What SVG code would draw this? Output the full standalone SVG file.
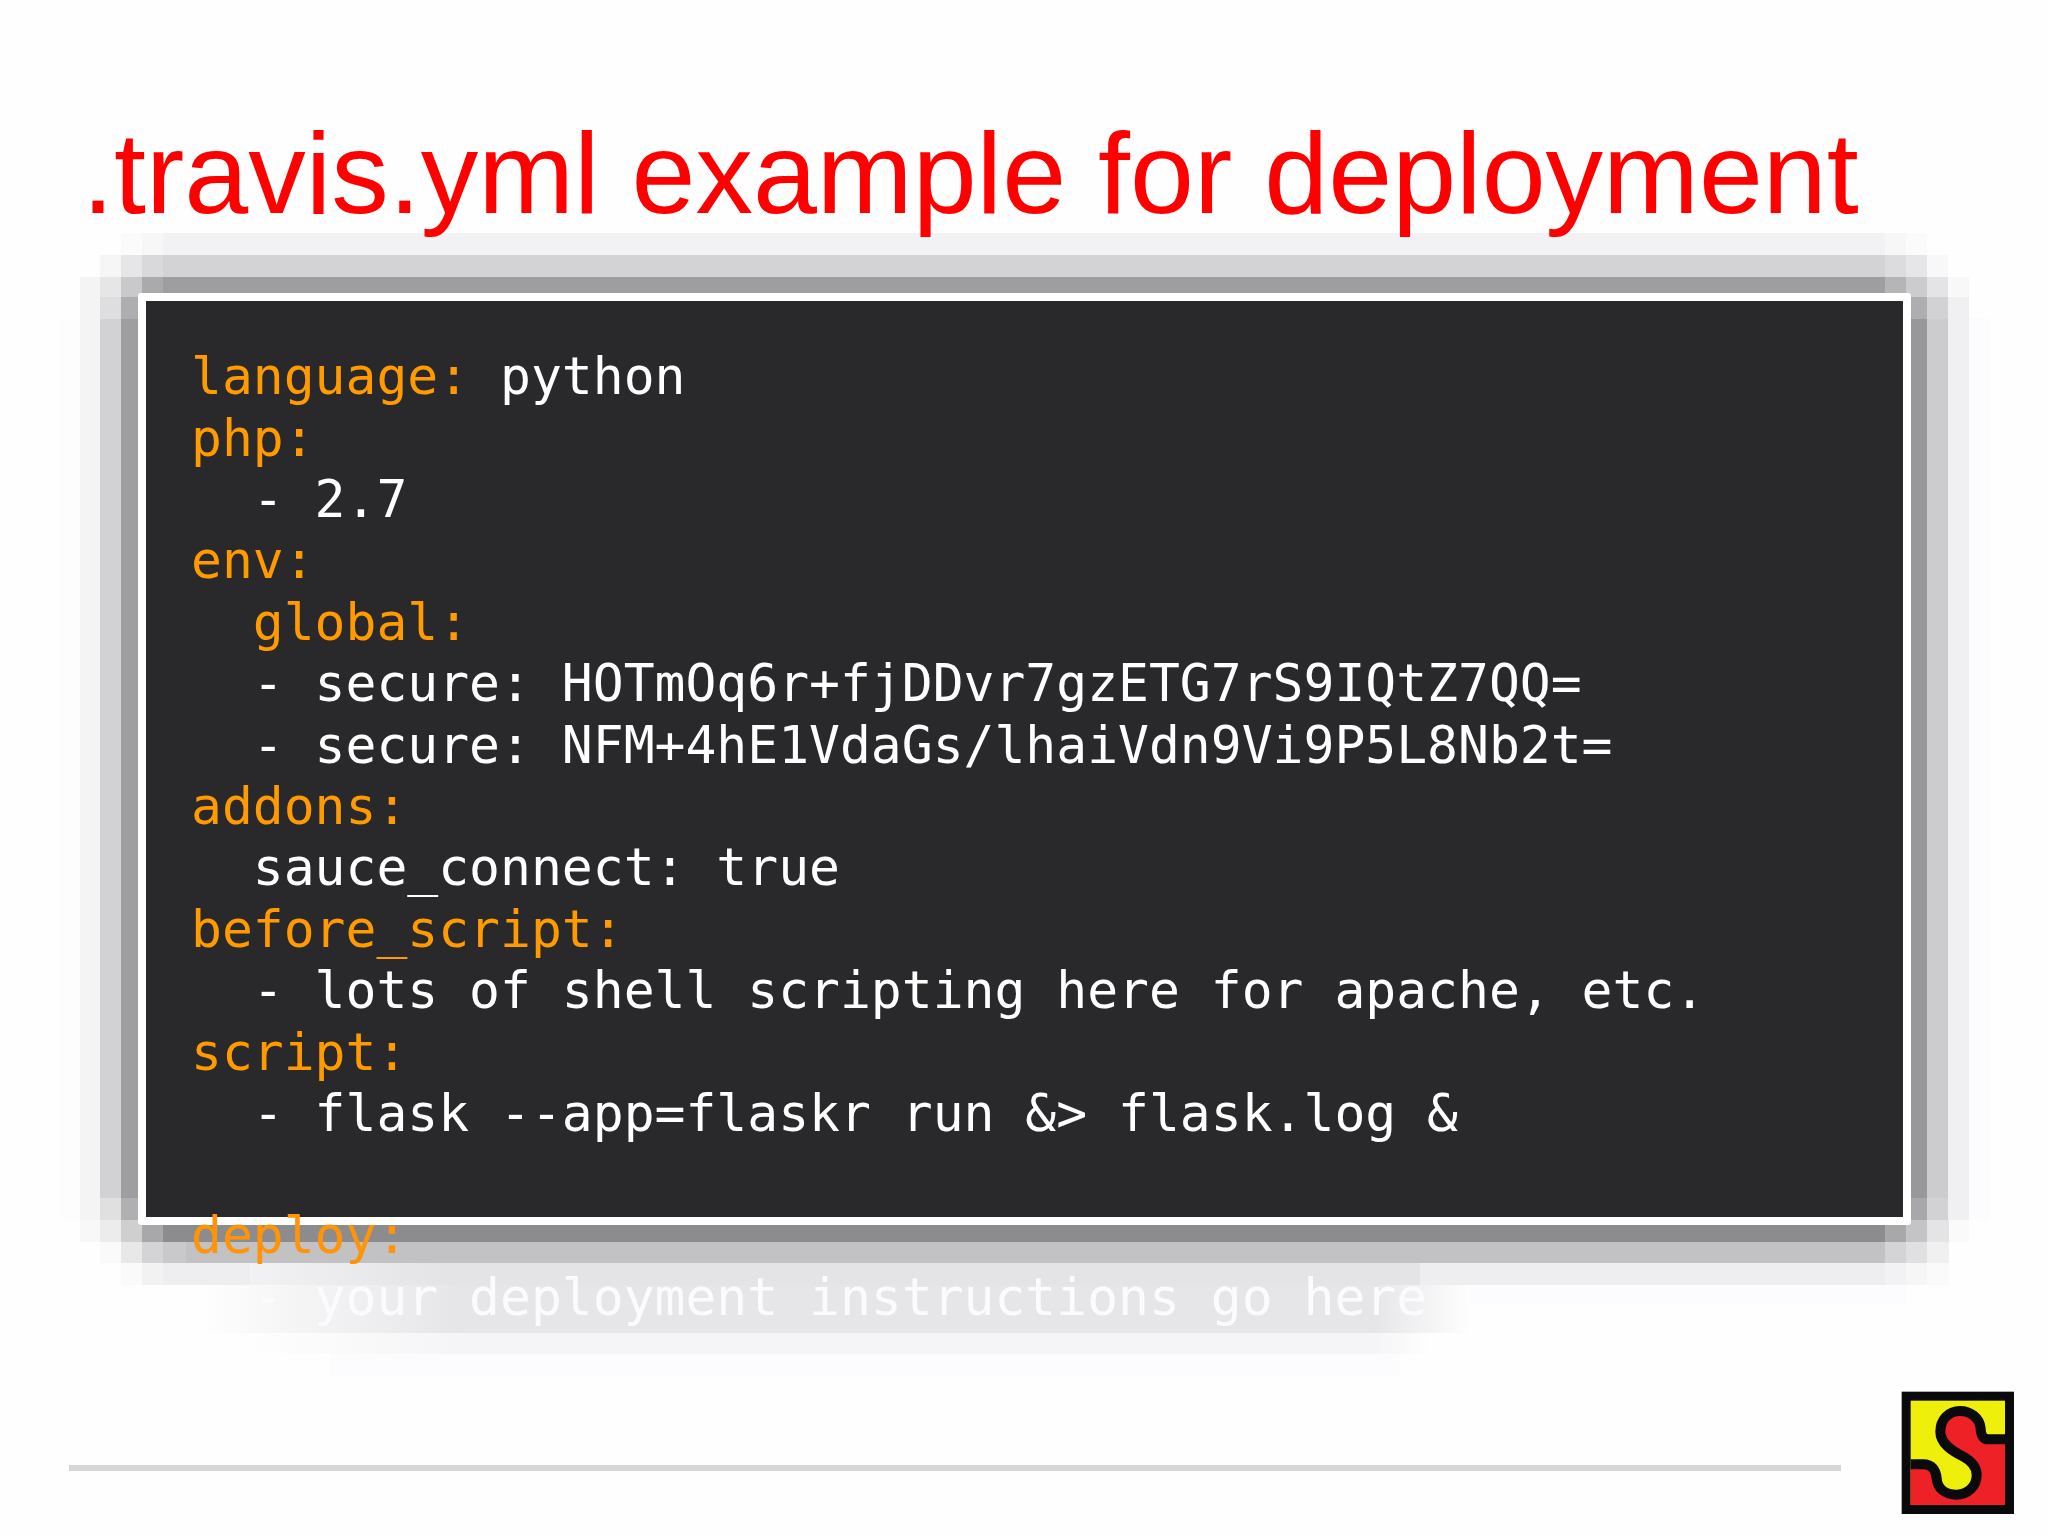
<svg xmlns="http://www.w3.org/2000/svg" width="2048" height="1536" viewBox="0 0 2048 1536">
<style>
.code{font-family:"DejaVu Sans Mono","Liberation Mono",monospace;font-size:51.33px;white-space:pre}
.k{fill:#ff9a00}
.v{fill:#ffffff}
.title{font-family:"Liberation Sans",Arial,sans-serif;font-size:115px;fill:#fe0000}
</style>
<defs>
<linearGradient id="fadeL" x1="0" x2="1" y1="0" y2="0"><stop offset="0" stop-color="#fefefe"/><stop offset="1" stop-color="#e6e5e8"/></linearGradient>
<linearGradient id="fadeR" x1="0" x2="1" y1="0" y2="0"><stop offset="0" stop-color="#e8e7ea"/><stop offset="1" stop-color="#fefefe"/></linearGradient>
<linearGradient id="fadeL2" x1="0" x2="1" y1="0" y2="0"><stop offset="0" stop-color="#fefefe"/><stop offset="1" stop-color="#f5f4f6"/></linearGradient>
<linearGradient id="fadeR2" x1="0" x2="1" y1="0" y2="0"><stop offset="0" stop-color="#f5f4f6"/><stop offset="1" stop-color="#fefefe"/></linearGradient>
<linearGradient id="fadeT" x1="0" x2="1" y1="0" y2="0"><stop offset="0" stop-color="#f2f1f3"/><stop offset="1" stop-color="#e4e3e6"/></linearGradient>
</defs>
<rect width="2048" height="1536" fill="#fefefe"/>
<g id="shadow" shape-rendering="crispEdges">
<!-- outermost faint -->
<rect x="60" y="318" width="20" height="902" fill="#fdfdfd"/>
<rect x="1969" y="318" width="21" height="902" fill="#fcfcfe"/>
<rect x="250" y="1284" width="1656" height="21" fill="#fcfbfd"/>
<!-- top bands -->
<rect x="163" y="233" width="1722" height="22" fill="#f2f2f4"/>
<rect x="121" y="233" width="21" height="22" fill="#fbfbfc"/>
<rect x="142" y="233" width="21" height="22" fill="#f7f7f8"/>
<rect x="1885" y="233" width="21" height="22" fill="#f7f7f8"/>
<rect x="1906" y="233" width="21" height="22" fill="#fbfbfc"/>
<rect x="163" y="255" width="1722" height="22" fill="#d3d2d5"/>
<rect x="100" y="255" width="21" height="22" fill="#f6f6f7"/>
<rect x="121" y="255" width="21" height="22" fill="#e6e6e8"/>
<rect x="142" y="255" width="21" height="22" fill="#d9d8db"/>
<rect x="1885" y="255" width="21" height="22" fill="#dcdcdf"/>
<rect x="1906" y="255" width="21" height="22" fill="#e6e6e9"/>
<rect x="1927" y="255" width="21" height="22" fill="#f8f8f9"/>
<rect x="163" y="277" width="1722" height="20" fill="#9e9da0"/>
<rect x="100" y="277" width="21" height="20" fill="#e6e6e7"/>
<rect x="121" y="277" width="21" height="20" fill="#c9c8cb"/>
<rect x="142" y="277" width="21" height="20" fill="#aaa9ac"/>
<rect x="1885" y="277" width="21" height="20" fill="#b5b4b7"/>
<rect x="1906" y="277" width="21" height="20" fill="#cccbce"/>
<rect x="1927" y="277" width="21" height="20" fill="#e4e4e6"/>
<rect x="1948" y="277" width="21" height="20" fill="#f8f8f9"/>
<!-- left bands -->
<rect x="80" y="277" width="20" height="943" fill="#f4f4f5"/>
<rect x="100" y="297" width="21" height="22" fill="#dedde0"/>
<rect x="100" y="319" width="21" height="879" fill="#d2d1d4"/>
<rect x="100" y="1198" width="21" height="22" fill="#e0e0e1"/>
<rect x="121" y="297" width="17" height="22" fill="#aeadb0"/>
<rect x="121" y="319" width="17" height="879" fill="#9e9da0"/>
<rect x="121" y="1198" width="17" height="22" fill="#b0afb2"/>
<!-- right bands -->
<rect x="1911" y="297" width="16" height="22" fill="#aeadb0"/>
<rect x="1911" y="319" width="16" height="879" fill="#98979a"/>
<rect x="1911" y="1198" width="16" height="22" fill="#a8a7aa"/>
<rect x="1927" y="297" width="21" height="22" fill="#d2d2d4"/>
<rect x="1927" y="319" width="21" height="879" fill="#cccbce"/>
<rect x="1927" y="1198" width="21" height="22" fill="#d2d1d4"/>
<rect x="1948" y="297" width="21" height="923" fill="#f0f0f2"/>
<!-- bottom bands -->
<rect x="163" y="1220" width="1722" height="22" fill="#8c8b8e"/>
<rect x="80" y="1220" width="20" height="22" fill="#f8f8f9"/>
<rect x="100" y="1220" width="21" height="22" fill="#ececed"/>
<rect x="121" y="1220" width="21" height="22" fill="#cfcfd0"/>
<rect x="142" y="1220" width="21" height="22" fill="#a8a7aa"/>
<rect x="1885" y="1220" width="21" height="22" fill="#a8a7aa"/>
<rect x="1906" y="1220" width="21" height="22" fill="#c4c3c6"/>
<rect x="1927" y="1220" width="22" height="22" fill="#e4e4e6"/>
<rect x="1949" y="1220" width="20" height="22" fill="#fafafb"/>
<rect x="186" y="1242" width="1699" height="21" fill="#c2c1c4"/>
<rect x="100" y="1242" width="21" height="21" fill="#fafafa"/>
<rect x="121" y="1242" width="21" height="21" fill="#e8e8e9"/>
<rect x="142" y="1242" width="21" height="21" fill="#d4d3d6"/>
<rect x="163" y="1242" width="23" height="21" fill="#c9c8cb"/>
<rect x="1885" y="1242" width="21" height="21" fill="#d4d3d6"/>
<rect x="1906" y="1242" width="21" height="21" fill="#e0e0e2"/>
<rect x="1927" y="1242" width="22" height="21" fill="#f0f0f1"/>
<rect x="163" y="1263" width="1722" height="22" fill="#eeedef"/>
<rect x="121" y="1263" width="21" height="22" fill="#fafafa"/>
<rect x="142" y="1263" width="21" height="22" fill="#f2f2f3"/>
<rect x="1885" y="1263" width="21" height="22" fill="#f2f2f4"/>
<rect x="1906" y="1263" width="21" height="22" fill="#f6f6f7"/>
<rect x="1927" y="1263" width="22" height="22" fill="#fafafb"/>
<rect x="250" y="1263" width="190" height="22" fill="url(#fadeT)"/>
<rect x="440" y="1263" width="980" height="22" fill="#e4e3e6"/>
<!-- text line shadow -->
<rect x="200" y="1285" width="260" height="48" fill="url(#fadeL)"/>
<rect x="460" y="1285" width="920" height="48" fill="#e6e5e8"/>
<rect x="1380" y="1285" width="90" height="48" fill="url(#fadeR)"/>
<rect x="250" y="1333" width="220" height="21" fill="url(#fadeL2)"/>
<rect x="470" y="1333" width="900" height="21" fill="#f5f4f6"/>
<rect x="1370" y="1333" width="60" height="21" fill="url(#fadeR2)"/>
<rect x="330" y="1354" width="1070" height="21" fill="#fcfbfd"/>
</g>
<g id="panel">
<rect x="138" y="293" width="1773" height="932" rx="3" fill="#ffffff"/>
<rect x="146" y="301" width="1757" height="916" fill="#29282b"/>
</g>
<text id="title" class="title" x="82" y="213">.travis.yml example for deployment</text>
<g id="code" class="code">
<text x="191" y="394"><tspan class="k">language:</tspan><tspan class="v"> python</tspan></text>
<text class="k" x="191" y="455.5">php:</text>
<text class="v" x="191" y="517" xml:space="preserve">  - 2.7</text>
<text class="k" x="191" y="578.3">env:</text>
<text class="k" x="191" y="639.8" xml:space="preserve">  global:</text>
<text class="v" x="191" y="701.2" xml:space="preserve">  - secure: HOTmOq6r+fjDDvr7gzETG7rS9IQtZ7QQ=</text>
<text class="v" x="191" y="762.6" xml:space="preserve">  - secure: NFM+4hE1VdaGs/lhaiVdn9Vi9P5L8Nb2t=</text>
<text class="k" x="191" y="824">addons:</text>
<text class="v" x="191" y="885.4" xml:space="preserve">  sauce_connect: true</text>
<text class="k" x="191" y="946.8">before_script:</text>
<text class="v" x="191" y="1008.2" xml:space="preserve">  - lots of shell scripting here for apache, etc.</text>
<text class="k" x="191" y="1069.6">script:</text>
<text class="v" x="191" y="1131" xml:space="preserve">  - flask --app=flaskr run &amp;&gt; flask.log &amp;</text>
<text x="191" y="1253" fill="#ff9408">deploy:</text>
<text x="191" y="1314.5" fill="#fbfafc" xml:space="preserve">  - your deployment instructions go here</text>
</g>
<rect id="rule" x="69" y="1465" width="1772" height="6" fill="#d6d5d7"/>
<g id="logo" transform="translate(1880 1380) scale(0.33333)">
<rect x="65" y="35" width="337" height="367" fill="#0a0a0c"/>
<rect x="92" y="62" width="283" height="313" fill="#eef00c"/>
<path d="M375 178H325C310 178 302 165 302 145C298 112 270 93 240 93C205 93 181 120 181 155C181 190 215 212 250 230C278 245 290 262 290 285C290 320 262 344 230 344C195 344 172 325 170 295C168 270 155 253 130 253H92V375H375Z" fill="#ee2126"/>
<path d="M375 178H325C310 178 302 165 302 145C298 112 270 93 240 93C205 93 181 120 181 155C181 190 215 212 250 230C278 245 290 262 290 285C290 320 262 344 230 344C195 344 172 325 170 295C168 270 155 253 130 253H92" fill="none" stroke="#0a0a0c" stroke-width="30"/>
</g>
</svg>
